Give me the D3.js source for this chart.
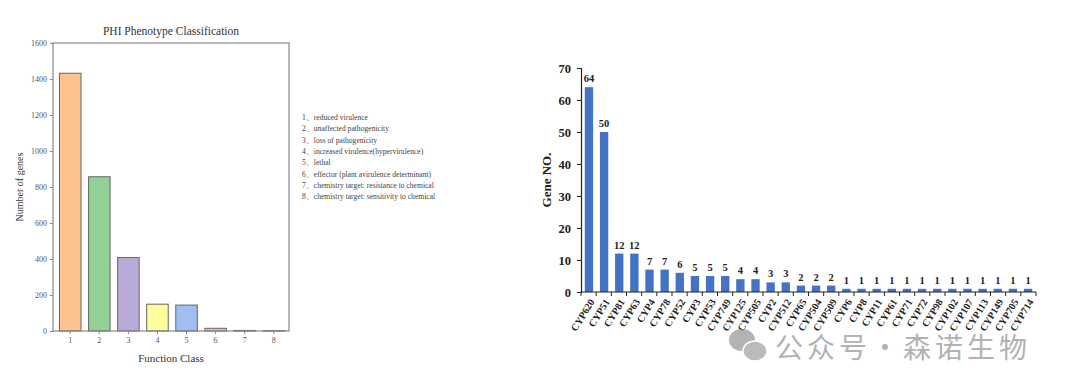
<!DOCTYPE html>
<html>
<head>
<meta charset="utf-8">
<script src="https://cdn.jsdelivr.net/npm/d3@7"></script>
<style>
  body { margin: 0; background: #fff; }
  svg { display: block; }
</style>
</head>
<body>
<div id="chart"></div>
<script>
// Data
// ============================================
var phiClasses = ["1", "2", "3", "4", "5", "6", "7", "8"];
var phiCounts = [1432, 857, 408, 149, 144, 15, 3, 2];
var phiColors = ["#fdc28e", "#92d193", "#b9abd9", "#fdfd9b", "#9fbff3", "#f3b7b7", "#d9d9d9", "#d9d9d9"];
var phiLegend = [
    "1、reduced virulence",
    "2、unaffected pathogenicity",
    "3、loss of pathogenicity",
    "4、increased virulence(hypervirulence)",
    "5、lethal",
    "6、effector (plant avirulence determinant)",
    "7、chemistry target: resistance to chemical",
    "8、chemistry target: sensitivity to chemical"
];
var phiTicks = [0, 200, 400, 600, 800, 1000, 1200, 1400, 1600];

var cypNames = ["CYP620", "CYP51", "CYP81", "CYP63", "CYP4", "CYP78", "CYP52", "CYP3", "CYP53", "CYP749",
    "CYP125", "CYP505", "CYP2", "CYP512", "CYP65", "CYP504", "CYP509", "CYP6", "CYP8", "CYP11",
    "CYP61", "CYP71", "CYP72", "CYP98", "CYP102", "CYP107", "CYP113", "CYP149", "CYP705", "CYP714"];
var cypCounts = [64, 50, 12, 12, 7, 7, 6, 5, 5, 5, 4, 4, 3, 3, 2, 2, 2, 1, 1, 1, 1, 1, 1, 1, 1, 1, 1, 1, 1, 1];
var cypTicks = [0, 10, 20, 30, 40, 50, 60, 70];

var svg = d3.select("#chart").append("svg")
    .attr("width", 1080)
    .attr("height", 389);

var serif = "'Liberation Serif', 'DejaVu Serif', serif";

// Left chart: PHI Phenotype Classification
// ============================================
var left = { x0: 53, x1: 289, y0: 43, y1: 331 };

var xPhi = d3.scaleBand().domain(phiClasses).range([left.x0 + 3, left.x1 - 1]).paddingInner(0.26).paddingOuter(0.12);
var yPhi = d3.scaleLinear().domain([0, 1600]).range([left.y1, left.y0]);

var leftG = svg.append("g");

leftG.append("text")
    .attr("x", (left.x0 + left.x1) / 2)
    .attr("y", 35)
    .attr("text-anchor", "middle")
    .attr("font-family", serif)
    .attr("font-size", 11.5)
    .attr("fill", "#333")
    .text("PHI Phenotype Classification");

leftG.selectAll("rect.phi")
    .data(phiCounts)
    .enter()
    .append("rect")
    .attr("class", "phi")
    .attr("x", (d, i) => xPhi(phiClasses[i]))
    .attr("y", d => yPhi(d))
    .attr("width", xPhi.bandwidth())
    .attr("height", d => yPhi(0) - yPhi(d))
    .attr("fill", (d, i) => phiColors[i])
    .attr("stroke", "#666")
    .attr("stroke-width", 1);

// frame
leftG.append("rect")
    .attr("x", left.x0)
    .attr("y", left.y0)
    .attr("width", left.x1 - left.x0)
    .attr("height", left.y1 - left.y0)
    .attr("fill", "none")
    .attr("stroke", "#888")
    .attr("stroke-width", 1.2);

var phiYAxis = leftG.append("g")
    .attr("transform", `translate(${left.x0}, 0)`)
    .call(d3.axisLeft(yPhi).tickValues(phiTicks).tickFormat(d3.format("d")).tickSize(3).tickPadding(3));
phiYAxis.select(".domain").remove();

var phiXAxis = leftG.append("g")
    .attr("transform", `translate(0, ${left.y1})`)
    .call(d3.axisBottom(xPhi).tickSize(3).tickPadding(3));
phiXAxis.select(".domain").remove();

[phiYAxis, phiXAxis].forEach(ax => {
    ax.selectAll("text").attr("font-family", serif).attr("font-size", 8).attr("fill", "#555");
    ax.selectAll("line").attr("stroke", "#888");
});

leftG.append("text")
    .attr("x", (left.x0 + left.x1) / 2)
    .attr("y", 362)
    .attr("text-anchor", "middle")
    .attr("font-family", serif)
    .attr("font-size", 11)
    .attr("fill", "#333")
    .text("Function Class");

leftG.append("text")
    .attr("transform", `translate(23, ${(left.y0 + left.y1) / 2}) rotate(-90)`)
    .attr("text-anchor", "middle")
    .attr("font-family", serif)
    .attr("font-size", 10)
    .attr("fill", "#333")
    .text("Number of genes");

leftG.append("g")
    .selectAll("text")
    .data(phiLegend)
    .enter()
    .append("text")
    .attr("x", 302)
    .attr("y", (d, i) => 120 + i * 11.3)
    .attr("font-family", serif)
    .attr("font-size", 7.6)
    .attr("fill", "#444")
    .text(d => d);

// Right chart: Gene NO. per CYP family
// ============================================
var right = { x0: 581, x1: 1036, y0: 68, y1: 292 };

var xCyp = d3.scaleBand().domain(cypNames).range([right.x0, right.x1]).paddingInner(0.45).paddingOuter(0.25);
var yCyp = d3.scaleLinear().domain([0, 70]).range([right.y1, right.y0]);

var rightG = svg.append("g");

rightG.selectAll("rect.cyp")
    .data(cypCounts)
    .enter()
    .append("rect")
    .attr("class", "cyp")
    .attr("x", (d, i) => xCyp(cypNames[i]))
    .attr("y", d => yCyp(d))
    .attr("width", xCyp.bandwidth())
    .attr("height", d => yCyp(0) - yCyp(d))
    .attr("fill", "#4472c4");

rightG.selectAll("text.val")
    .data(cypCounts)
    .enter()
    .append("text")
    .attr("class", "val")
    .attr("x", (d, i) => xCyp(cypNames[i]) + xCyp.bandwidth() / 2)
    .attr("y", d => yCyp(d) - 5)
    .attr("text-anchor", "middle")
    .attr("font-family", serif)
    .attr("font-weight", "bold")
    .attr("font-size", 10.5)
    .attr("fill", "#222")
    .text(d => d);

var cypYAxis = rightG.append("g")
    .attr("transform", `translate(${right.x0}, 0)`)
    .call(d3.axisLeft(yCyp).tickValues(cypTicks).tickSize(4).tickPadding(6));
cypYAxis.selectAll("text").attr("font-family", serif).attr("font-weight", "bold").attr("font-size", 12.5).attr("fill", "#222");

// x axis: ticks sit between the bars
var cypXAxis = rightG.append("g")
    .attr("transform", `translate(0, ${right.y1})`);
cypXAxis.append("line")
    .attr("x1", right.x0).attr("x2", right.x1)
    .attr("stroke", "#222").attr("stroke-width", 1.2);
cypXAxis.selectAll("line.tk")
    .data(d3.range(cypNames.length + 1))
    .enter()
    .append("line")
    .attr("class", "tk")
    .attr("x1", i => right.x0 + i * (right.x1 - right.x0) / cypNames.length)
    .attr("x2", i => right.x0 + i * (right.x1 - right.x0) / cypNames.length)
    .attr("y1", 0).attr("y2", 4)
    .attr("stroke", "#222");
cypYAxis.selectAll("line").attr("stroke", "#222");
cypYAxis.select(".domain").attr("stroke", "#222").attr("stroke-width", 1.2);

cypXAxis.selectAll("text")
    .data(cypNames)
    .enter()
    .append("text")
    .attr("transform", d => `translate(${xCyp(d) + xCyp.bandwidth() / 2 + 3}, 8) rotate(-58)`)
    .attr("text-anchor", "end")
    .attr("dy", "0.35em")
    .attr("font-family", serif)
    .attr("font-weight", "bold")
    .attr("font-size", 10)
    .attr("fill", "#222")
    .text(d => d);

rightG.append("text")
    .attr("transform", `translate(551, ${(right.y0 + right.y1) / 2}) rotate(-90)`)
    .attr("text-anchor", "middle")
    .attr("font-family", serif)
    .attr("font-weight", "bold")
    .attr("font-size", 13)
    .attr("fill", "#222")
    .text("Gene NO.");

// Watermark
// ============================================
var wm = svg.append("g").attr("opacity", 0.75);
wm.append("ellipse").attr("cx", 742).attr("cy", 340).attr("rx", 13).attr("ry", 11).attr("fill", "#9a9a9a");
wm.append("ellipse").attr("cx", 755).attr("cy", 351).attr("rx", 12).attr("ry", 10).attr("fill", "#a5a5a5").attr("stroke", "#fff").attr("stroke-width", 1.5);
wm.append("text")
    .attr("x", 775).attr("y", 358)
    .attr("font-family", "'Noto Sans CJK SC', sans-serif")
    .attr("font-size", 28)
    .attr("letter-spacing", 4)
    .attr("fill", "#999")
    .text("公众号·森诺生物");
</script>
</body>
</html>
